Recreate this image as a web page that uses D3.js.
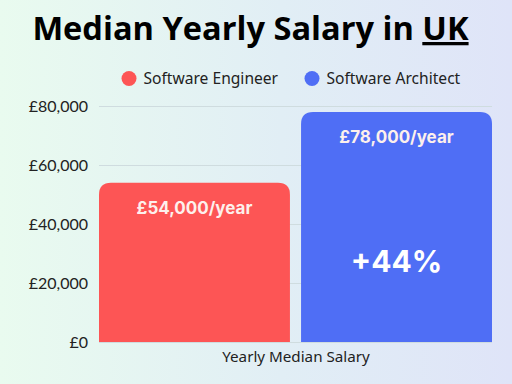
<!DOCTYPE html>
<html>
<head>
<meta charset="utf-8">
<script src="https://cdn.jsdelivr.net/npm/d3@7/dist/d3.min.js"></script>
<style>
  html, body { margin: 0; padding: 0; overflow: hidden; }
  svg { display: block; }
</style>
</head>
<body>
<svg id="chart"></svg>
<script>
// ── Data ─────────────────────────────────────────────────────────────────────
const roles    = ['Software Engineer', 'Software Architect'];
const salaries = [54000, 78000];
const colors   = ['#fd5555', '#4f6ef5'];
const yTicks   = [0, 20000, 40000, 60000, 80000];
const category = 'Yearly Median Salary';
const increase = '+44%';

const W = 512, H = 384;
const svg = d3.select('#chart').attr('width', W).attr('height', H);
const defs = svg.append('defs');

// ── Background gradient ──────────────────────────────────────────────────────
const bg = defs.append('linearGradient').attr('id', 'bg')
    .attr('x1', 0).attr('y1', 0).attr('x2', 1).attr('y2', 0);
bg.append('stop').attr('offset', '0%').attr('stop-color', '#e9fbef');
bg.append('stop').attr('offset', '55%').attr('stop-color', '#e1eef5');
bg.append('stop').attr('offset', '100%').attr('stop-color', '#dfe4f8');
svg.append('rect').attr('width', W).attr('height', H).attr('fill', 'url(#bg)');

// ── Title ────────────────────────────────────────────────────────────────────
const title = svg.append('text')
    .attr('x', 250.5).attr('y', 40)
    .attr('text-anchor', 'middle')
    .style('font-family', '"Open Sans", sans-serif')
    .style('font-weight', 700)
    .style('font-size', '32.6px')
    .attr('fill', '#000');
title.append('tspan').text('Median Yearly Salary in ');
title.append('tspan').text('UK').style('text-decoration', 'underline');

// ── Scales ───────────────────────────────────────────────────────────────────
const margin = { top: 106, right: 20, bottom: 42, left: 99 };
const x = d3.scaleBand().domain(roles)
    .range([margin.left, W - margin.right])
    .paddingInner(0.055).paddingOuter(0);
const y = d3.scaleLinear().domain([0, 80000]).range([H - margin.bottom, margin.top]);

// ── Grid + y axis ────────────────────────────────────────────────────────────
const yAxis = d3.axisLeft(y).tickValues(yTicks)
    .tickFormat(d => '£' + d3.format(',')(d))
    .tickSize(-(W - margin.right - margin.left)).tickPadding(11);
const gy = svg.append('g').attr('transform', `translate(${margin.left},0)`).call(yAxis);
gy.select('.domain').remove();
gy.selectAll('.tick line').attr('stroke', '#cfdcdf').attr('stroke-width', 1);
gy.selectAll('.tick text')
    .style('font-family', 'Lato, sans-serif')
    .style('font-size', '16px')
    .attr('fill', '#222');

// ── Bars (rounded top corners) ───────────────────────────────────────────────
function topRounded(x0, y0, w, h, r) {
    return `M${x0},${y0 + h}V${y0 + r}Q${x0},${y0} ${x0 + r},${y0}` +
           `H${x0 + w - r}Q${x0 + w},${y0} ${x0 + w},${y0 + r}V${y0 + h}Z`;
}
const bars = roles.map((r, i) => ({ role: r, value: salaries[i], color: colors[i] }));
svg.append('g').selectAll('path').data(bars).join('path')
    .attr('d', d => topRounded(x(d.role), y(d.value), x.bandwidth(), y(0) - y(d.value), 12))
    .attr('fill', d => d.color);

// value labels
svg.append('g').selectAll('text').data(bars).join('text')
    .attr('x', d => x(d.role) + x.bandwidth() / 2)
    .attr('y', d => y(d.value) + 31)
    .attr('text-anchor', 'middle')
    .style('font-family', 'Inter, sans-serif')
    .style('font-weight', 700)
    .style('font-size', '17px')
    .attr('fill', '#fdf0ec')
    .text(d => '£' + d3.format(',')(d.value) + '/year');

// increase label
svg.append('text')
    .attr('x', x(roles[1]) + x.bandwidth() / 2)
    .attr('y', 272)
    .attr('text-anchor', 'middle')
    .style('font-family', 'Inter, sans-serif')
    .style('font-weight', 700)
    .style('font-size', '30px')
    .attr('fill', '#fff')
    .text(increase);

// ── x label ──────────────────────────────────────────────────────────────────
svg.append('text')
    .attr('x', 296).attr('y', 362)
    .attr('text-anchor', 'middle')
    .style('font-family', '"Noto Sans", sans-serif')
    .style('font-size', '15.2px')
    .attr('fill', '#222')
    .text(category);

// ── Legend ───────────────────────────────────────────────────────────────────
const legendX = [129, 312];
const lg = svg.append('g').selectAll('g').data(bars).join('g')
    .attr('transform', (d, i) => `translate(${legendX[i]},78.5)`);
lg.append('circle').attr('r', 7.5).attr('fill', d => d.color);
lg.append('text').attr('x', 14.5).attr('y', 5)
    .style('font-family', '"Noto Sans", sans-serif')
    .style('font-size', '15.6px')
    .attr('fill', '#222')
    .text(d => d.role);
</script>
</body>
</html>
